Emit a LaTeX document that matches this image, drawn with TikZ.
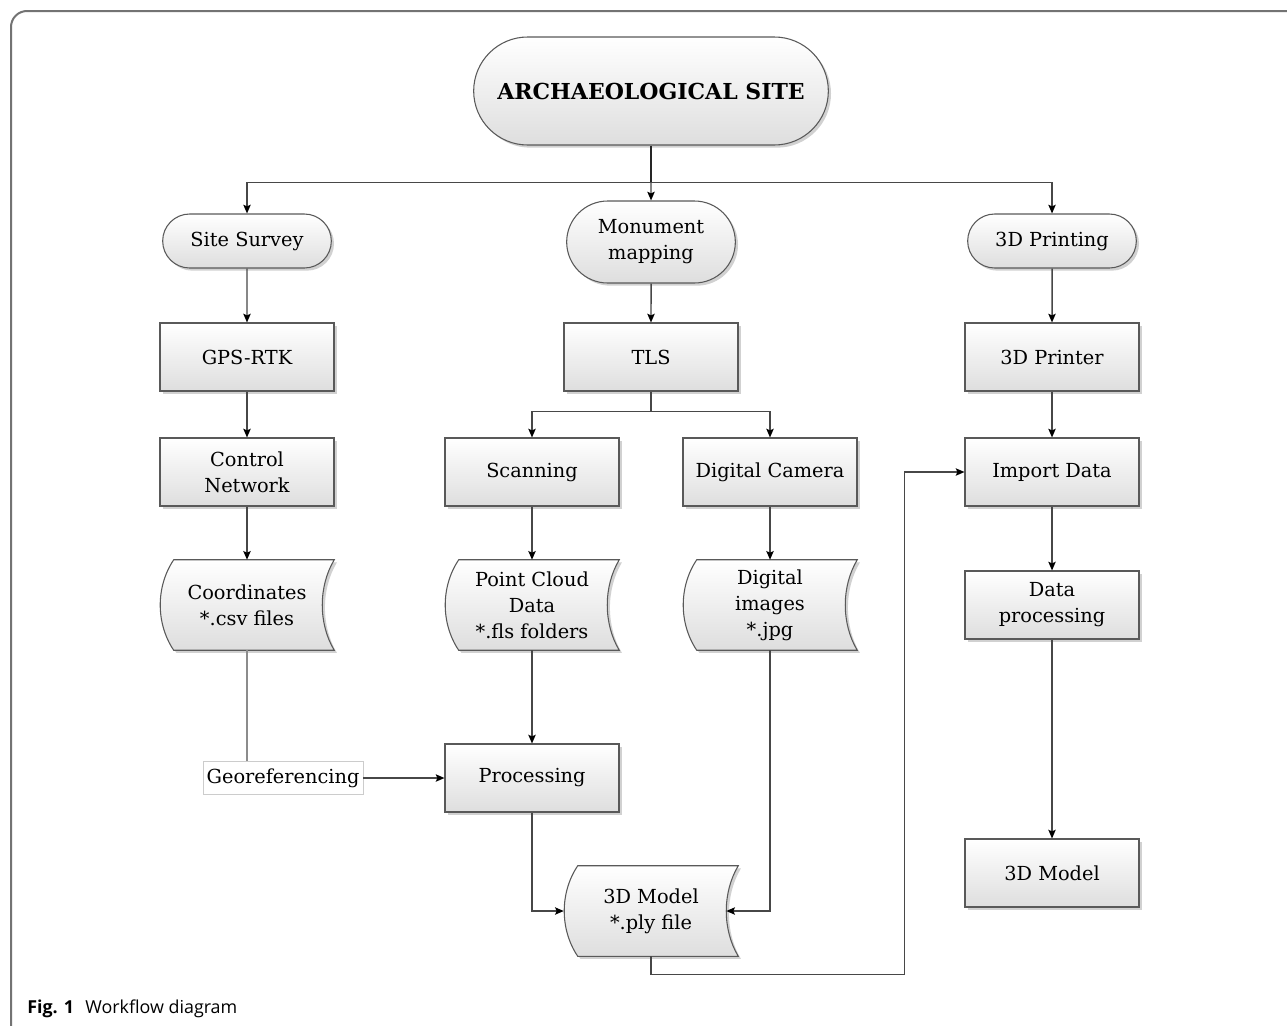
\documentclass[tikz,border=0pt]{standalone}
\usepackage{fontspec}
\setmainfont{DejaVu Serif}
\newfontfamily\captionfont{Open Sans}
\usetikzlibrary{shapes.misc,shadows,backgrounds,arrows.meta}

\begin{document}
\begin{tikzpicture}
[x=0.75pt,y=-0.75pt,
  font=\fontsize{14.5}{19.5}\selectfont,
  boxshade/.style={draw=black!65,line width=0.8pt,top color=white,bottom color=black!13,
    drop shadow={shadow xshift=2pt,shadow yshift=-2pt,opacity=0.3,fill=black!60}},%
  termdecorate/.style={boxshade,shape=rounded rectangle,minimum width=130.5pt,
    minimum height=40.5pt,align=center,inner sep=2pt},%
  nodedecorate/.style={boxshade,shape=rectangle,minimum width=130.5pt,
    minimum height=51pt,align=center,inner sep=2pt},%
  datadecorate/.style={shape=rectangle,minimum width=130.5pt,minimum height=67.5pt,
    align=center,inner sep=0pt},%
  georefdecorate/.style={draw=black!20,line width=0.5pt,fill=white,minimum width=120pt,
    minimum height=25pt,inner sep=1pt},%
  arrowdecorate/.style={-{Stealth[length=6.5pt,width=5.5pt,inset=1.2pt,color=black]},
    line width=1.1pt,draw=black!72},%
  linedecorate/.style={-,line width=1.1pt,draw=black!72}]
\clip (0,0) rectangle (1287,1025);
%% frame and caption
\draw[draw=black!55,line width=1.5pt,rounded corners=12pt] (11,1060) -- (11,11) -- (1320,11);
\node[anchor=base west,inner sep=0pt,font=\captionfont\fontsize{13.4}{15}\selectfont]
  (caption) at (27,1013) {\textbf{Fig. 1}\hspace{5pt} Workflow diagram};
%% terminals
\node[termdecorate,minimum width=270pt,minimum height=81pt,
  font=\bfseries\fontsize{16.5}{20}\selectfont] (site) at (651,91) {ARCHAEOLOGICAL SITE};
\foreach \nodename/\x/\y/\nodetext in {survey/247/241/Site Survey,
  printing/1052/241/3D Printing} {
  \node[termdecorate] (\nodename) at (\x,\y) {\nodetext};
}
\node[termdecorate,minimum height=61.5pt] (mapping) at (651,242) {Monument\\mapping};
%% process boxes
\foreach \nodename/\x/\y/\nodetext in {gps/247/357/GPS-RTK, tls/651/357/TLS,
  printer/1052/357/3D Printer, control/247/472/{Control\\Network},
  scan/532/472/Scanning, camera/770/472/Digital Camera, import/1052/472/Import Data,
  dataproc/1052/605/{Data\\processing}, proc/532/778/Processing,
  printmodel/1052/873/3D Model} {
  \node[nodedecorate] (\nodename) at (\x,\y) {\nodetext};
}
%% stored data
\foreach \nodename/\x/\y/\nodetext in {coords/247/605/{Coordinates\\*.csv files},
  cloud/532/605/{Point Cloud\\Data\\*.fls folders}, images/770/605/{Digital\\images\\*.jpg},
  model/651/911/{3D Model\\*.ply file}} {
  \node[datadecorate] (\nodename) at (\x,\y) {\nodetext};
}
\begin{pgfonlayer}{background}
\foreach \nodename in {coords,cloud,images,model} {
  \path[boxshade] ([xshift=10.5pt]\nodename.north west)
    .. controls ([xshift=-3pt,yshift=-20pt]\nodename.north west)
    and ([xshift=-3pt,yshift=20pt]\nodename.south west) .. ([xshift=10.5pt]\nodename.south west)
    -- (\nodename.south east)
    .. controls ([xshift=-12pt,yshift=20pt]\nodename.south east)
    and ([xshift=-12pt,yshift=-20pt]\nodename.north east) .. (\nodename.north east)
    -- cycle;
}
\end{pgfonlayer}
\node[georefdecorate] (geo) at (283,778) {Georeferencing};
%% edges or lines
\draw[linedecorate,line width=1.8pt,draw=black!85] (site.south) -- ++(0,37) coordinate (hub);
\draw[arrowdecorate] (hub) -| (survey);
\draw[arrowdecorate] (hub) -| (printing);
\draw[arrowdecorate] (hub) -- (mapping);
\draw[linedecorate] (tls.south) -- ++(0,20) coordinate (split);
\draw[arrowdecorate] (split) -| (scan);
\draw[arrowdecorate] (split) -| (camera);
\path
(survey) edge[arrowdecorate] node {} (gps)
(gps) edge[arrowdecorate] node {} (control)
(control) edge[arrowdecorate] node {} (coords)
(mapping) edge[arrowdecorate] node {} (tls)
(scan) edge[arrowdecorate] node {} (cloud)
(camera) edge[arrowdecorate] node {} (images)
(cloud) edge[arrowdecorate] node {} (proc)
(geo) edge[arrowdecorate] node {} (proc)
(printing) edge[arrowdecorate] node {} (printer)
(printer) edge[arrowdecorate] node {} (import)
(import) edge[arrowdecorate] node {} (dataproc)
(dataproc) edge[arrowdecorate] node {} (printmodel);
\draw[linedecorate,draw=black!45] (coords.south) -- (coords.south |- geo.north);
\draw[arrowdecorate] (proc.south) |- (model.west);
\draw[arrowdecorate] (images.south) |- ([xshift=-9pt]model.east);
\draw[arrowdecorate] (model.south) -- ++(0,18) -| ([xshift=-45pt]import.west) -- (import.west);
\end{tikzpicture}
\end{document}
